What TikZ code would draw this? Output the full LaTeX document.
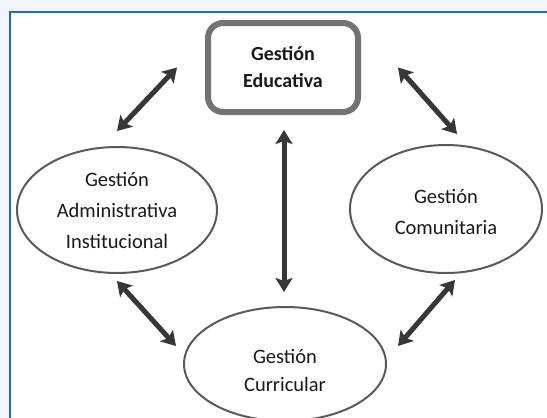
\documentclass[tikz,border=0pt]{standalone}
\usepackage{fontspec}
\setmainfont{Carlito}
\usepackage{tikz}
\usetikzlibrary{arrows.meta}
\usetikzlibrary{positioning}
\usetikzlibrary{shapes.geometric}

\definecolor{fondo}{RGB}{242,245,250}
\definecolor{marco}{RGB}{28,112,186}
\definecolor{borde}{RGB}{90,90,90}
\definecolor{flechagris}{RGB}{55,55,55}

\tikzset{
    gestion/.style={ellipse, draw=borde, line width=2pt, inner sep=0pt, align=center,
        text=black!90, font=\fontsize{20.5}{31}\selectfont},
    flecha/.style={line width=5pt, draw=flechagris,
        {Stealth[length=14pt,width=17pt,inset=3pt]}-{Stealth[length=14pt,width=17pt,inset=3pt]}}
}

\begin{document}
\begin{tikzpicture}[x=1pt,y=-1pt]
        \path[use as bounding box, fill=fondo] (0,0) rectangle (547,418);
        \fill[white] (10,12) rectangle (547,418);
        \draw[marco, line width=2pt] (10,418) -- (10,12) -- (547,12);

        \node[draw=borde!85, line width=6pt, rounded corners=15pt, minimum width=150pt, minimum height=89pt,
            align=center, text=black!90, font=\bfseries\fontsize{20}{27}\selectfont] (edu) at (283,67.5) {Gestión\\Educativa};
        \node[gestion, minimum width=200pt, minimum height=126pt] (adm) at (117,210) {Gestión\\Administrativa\\Institucional};
        \node[gestion, minimum width=192pt, minimum height=128pt, text height=50pt, text depth=0pt] (com) at (446,209) {Gestión\\Comunitaria};
        \node[gestion, minimum width=202pt, minimum height=114pt, font=\fontsize{20.5}{28}\selectfont,
            text height=54pt, text depth=0pt] (cur) at (285,364) {Gestión\\Curricular};

        % flechas de ida y vuelta
        \draw[flecha] ([yshift=15pt]adm.north) -- ([xshift=-28pt]edu.west);
        \draw[flecha] ([xshift=37pt]edu.east) -- ([xshift=11pt,yshift=10pt]com.north);
        \draw[flecha] ([xshift=1pt,yshift=-15pt]edu.south) -- ([xshift=-1pt,yshift=14pt]cur.north);
        \draw[flecha] ([yshift=-7pt]adm.south) -- ([xshift=-7pt,yshift=18pt]cur.west);
        \draw[flecha] ([xshift=9pt,yshift=-6pt]com.south) -- ([xshift=11pt,yshift=18pt]cur.east);
\end{tikzpicture}
\end{document}
